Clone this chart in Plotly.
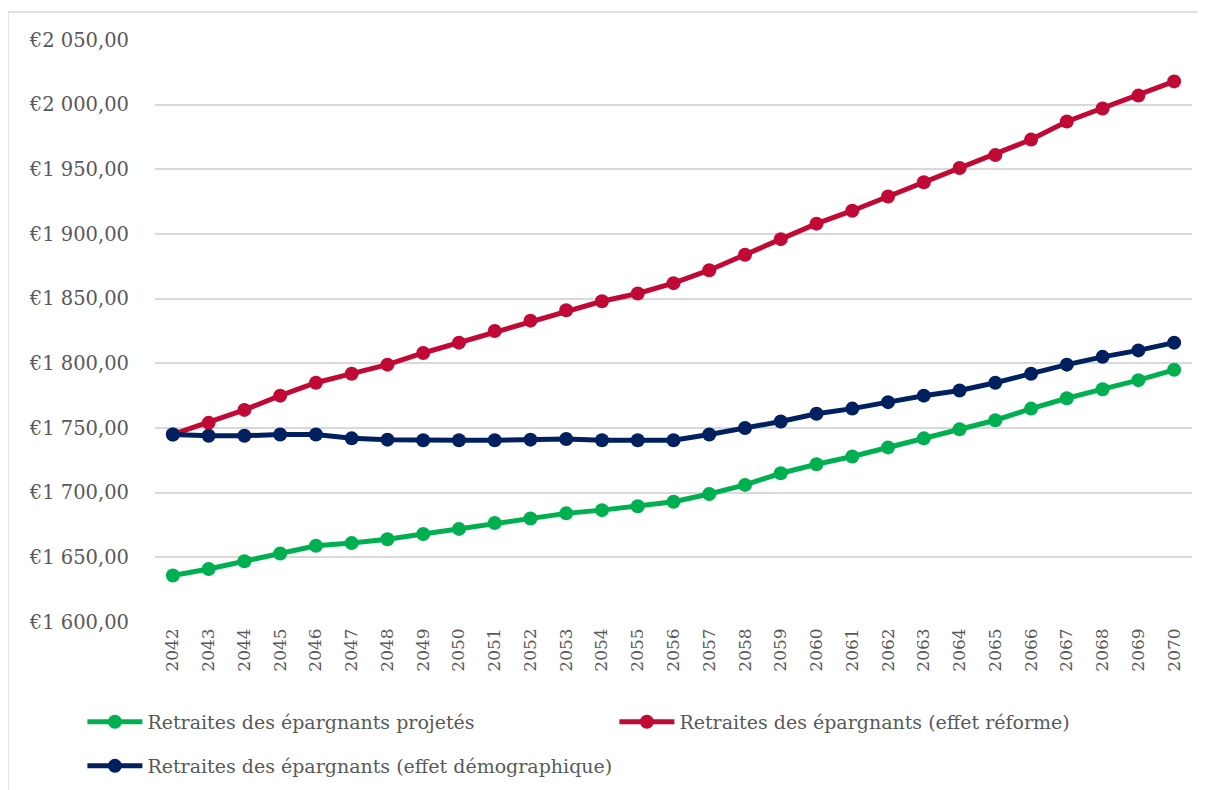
import plotly.graph_objects as go

years = [str(y) for y in range(2042, 2071)]

projetes = [1636, 1641, 1647, 1653, 1659, 1661, 1664, 1668, 1672, 1676.5, 1680, 1684, 1686.5, 1689.5, 1693,
            1699, 1706, 1715, 1722, 1728, 1735, 1742, 1749, 1756, 1765, 1773, 1780, 1787, 1795]
reforme = [1745, 1754, 1764, 1775, 1785, 1792, 1799, 1808, 1816, 1825, 1833, 1841, 1848, 1854, 1862,
           1872, 1884, 1896, 1908, 1918, 1929, 1940, 1951, 1961, 1973, 1987, 1997, 2007, 2018]
demographique = [1745, 1744, 1744, 1745, 1745, 1742, 1741, 1740.5, 1740.5, 1740.5, 1741, 1741.5, 1740.5, 1740.5, 1740.5,
                 1745, 1750, 1755, 1761, 1765, 1770, 1775, 1779, 1785, 1792, 1799, 1805, 1810, 1816]

series_names = ["Retraites des épargnants projetés",
                "Retraites des épargnants (effet réforme)",
                "Retraites des épargnants (effet démographique)"]
series_values = [projetes, reforme, demographique]
series_colors = ["#00B050", "#C00A35", "#002060"]
series_legends = ["legend", "legend2", "legend3"]

y_ticks = list(range(1600, 2051, 50))


def fmt_eur(v):
    s = f"{v:,.2f}".replace(",", " ").replace(".", ",")
    return "€" + s


FONT = "DejaVu Serif"
GRAY = "#595959"

fig = go.Figure()
for name, vals, col, lg in zip(series_names, series_values, series_colors, series_legends):
    fig.add_trace(go.Scatter(
        x=years, y=vals, name=name, mode="lines+markers",
        line=dict(color=col, width=5),
        marker=dict(color=col, size=14),
        legend=lg,
    ))

legend_common = dict(
    font=dict(family=FONT, size=19, color=GRAY),
    itemwidth=55, xanchor="left", yanchor="middle", yref="container",
    bgcolor="rgba(0,0,0,0)", borderwidth=0,
)

# body margin of 8px in the page: the figure is drawn from (8, 8)
fig.update_layout(
    width=1198, height=782,
    margin=dict(l=147, r=14, t=32, b=168, autoexpand=False),
    paper_bgcolor="white", plot_bgcolor="white",
    font=dict(family=FONT, color=GRAY, size=18),
    showlegend=True,
    legend=dict(x=-0.070, y=0.0870, **legend_common),
    legend2=dict(x=0.443, y=0.0870, **legend_common),
    legend3=dict(x=-0.070, y=0.0307, **legend_common),
    xaxis=dict(
        type="category", range=[-0.5, 28.5], tickangle=-90,
        showgrid=False, showline=False, zeroline=False, ticks="",
        ticklabelstandoff=2,
        tickfont=dict(family=FONT, size=17, color=GRAY),
    ),
    yaxis=dict(
        range=[1600, 2050], tickvals=y_ticks, ticktext=[fmt_eur(v) for v in y_ticks],
        showgrid=True, gridcolor="#D9D9D9", gridwidth=1.5, zeroline=False, showline=False,
        ticks="", ticklabelstandoff=25,
        tickfont=dict(family=FONT, size=19.5, color=GRAY),
    ),
    shapes=[
        dict(type="line", xref="paper", yref="paper", x0=-0.1418, x1=-0.1418, y0=-0.3, y1=1.048,
             line=dict(color="#D9D9D9", width=1.5)),
        dict(type="line", xref="paper", yref="paper", x0=-0.1418, x1=1.05, y0=1.048, y1=1.048,
             line=dict(color="#D9D9D9", width=1.5)),
    ],
)

fig.write_html("out.html")
